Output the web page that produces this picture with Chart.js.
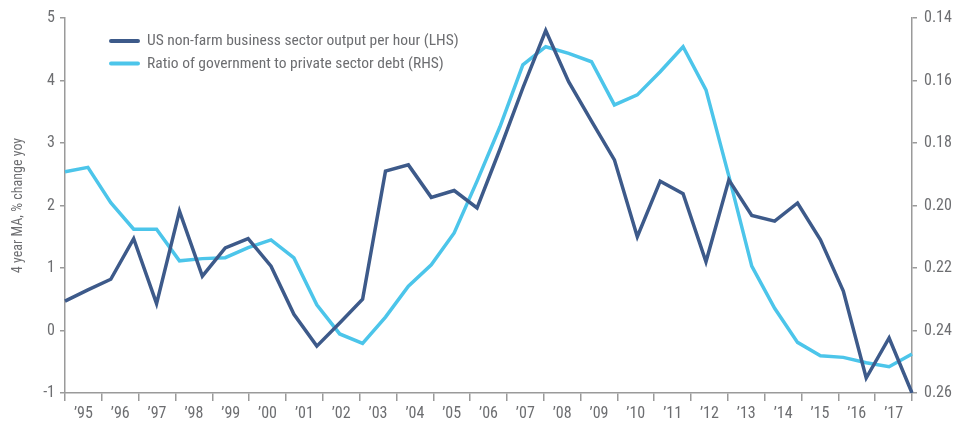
<!DOCTYPE html>
<html>
<head>
<meta charset="utf-8">
<script src="https://cdn.jsdelivr.net/npm/chart.js@4.4.1/dist/chart.umd.min.js"></script>
<style>
html,body{margin:0;padding:0;background:#ffffff;}
#wrap{width:958px;height:421px;position:relative;}
</style>
</head>
<body>
<div id="wrap"><canvas id="c"></canvas></div>
<script>
// ---- data ----
const periods = [1,2,3,4,5,6,7,8,9,10,11,12,13,14,15,16,17,18,19,20,21,22,23,24,25,26,27,28,29,30,31,32,33,34,35,36,37,38];
const yearLabels = ['\u201995','\u201996','\u201997','\u201998','\u201999','\u201900','\u201901','\u201902','\u201903','\u201904','\u201905','\u201906','\u201907','\u201908','\u201909','\u201910','\u201911','\u201912','\u201913','\u201914','\u201915','\u201916','\u201917'];
const productivityLabel = 'US non-farm business sector output per hour (LHS)';
const debtLabel = 'Ratio of government to private sector debt (RHS)';
const productivity = [0.47,0.65,0.82,1.47,0.43,1.91,0.87,1.32,1.47,1.03,0.26,-0.25,0.12,0.50,2.55,2.65,2.13,2.24,1.96,2.90,3.88,4.80,3.98,3.35,2.73,1.50,2.39,2.19,1.10,2.41,1.84,1.75,2.04,1.45,0.63,-0.76,-0.12,-1.00];
const debtRatio = [0.1892,0.1878,0.1991,0.2076,0.2076,0.2177,0.2170,0.2167,0.2135,0.2110,0.2168,0.2318,0.2411,0.2441,0.2357,0.2258,0.2190,0.2088,0.1922,0.1748,0.1550,0.1492,0.1513,0.1540,0.1678,0.1646,0.1572,0.1492,0.1630,0.1906,0.2194,0.2329,0.2438,0.2481,0.2486,0.2503,0.2516,0.2475];
const leftRange = [-1, 5];
const rightRange = [0.14, 0.26];
const leftTitle = '4 year MA, % change yoy';

// ---- styles ----
const FONT = "'Liberation Sans Narrow', 'Roboto Condensed', 'Roboto', sans-serif";
const TEXT = '#6d6e71';
const AXIS = '#9a9a9a';
const DARK = '#3d5a8a';
const LIGHT = '#4cc5ea';

const insideLegend = {
  id: 'insideLegend',
  afterDraw(chart) {
    const ctx = chart.ctx;
    chart.data.datasets.forEach((ds, i) => {
      const y = 41 + i * 22.5;
      ctx.save();
      ctx.strokeStyle = ds.borderColor;
      ctx.lineWidth = 4;
      ctx.lineCap = 'round';
      ctx.beginPath();
      ctx.moveTo(111, y);
      ctx.lineTo(138, y);
      ctx.stroke();
      ctx.fillStyle = TEXT;
      ctx.font = '15.5px ' + FONT;
      ctx.textBaseline = 'middle';
      ctx.textAlign = 'left';
      ctx.fillText(ds.label, 147, y + 0.5);
      ctx.restore();
    });
  }
};

new Chart(document.getElementById('c'), {
  type: 'line',
  data: {
    labels: periods,
    datasets: [
      {
        label: productivityLabel,
        data: productivity,
        yAxisID: 'y',
        xAxisID: 'x',
        borderColor: DARK,
        backgroundColor: DARK,
        borderWidth: 3.5,
        pointRadius: 0,
        tension: 0,
        borderJoinStyle: 'miter',
        fill: false
      },
      {
        label: debtLabel,
        data: debtRatio,
        yAxisID: 'y1',
        xAxisID: 'x',
        borderColor: LIGHT,
        backgroundColor: LIGHT,
        borderWidth: 3.5,
        pointRadius: 0,
        tension: 0,
        borderJoinStyle: 'miter',
        fill: false
      }
    ]
  },
  options: {
    responsive: true,
    maintainAspectRatio: false,
    animation: false,
    devicePixelRatio: 1,
    layout: { padding: { top: 18, left: 0, right: 0, bottom: 0 } },
    plugins: {
      legend: { display: false },
      tooltip: { enabled: false },
      title: { display: false }
    },
    scales: {
      x: {
        type: 'category',
        display: false,
        offset: false
      },
      xYears: {
        type: 'linear',
        axis: 'x',
        position: 'bottom',
        min: 0,
        max: yearLabels.length,
        afterFit(scale) { scale.height = 28; scale.paddingLeft = 0; scale.paddingRight = 0; },
        border: { display: true, color: AXIS, width: 1.5 },
        grid: {
          drawOnChartArea: false,
          drawTicks: true,
          tickLength: 8,
          lineWidth: 1.5,
          color: (ctx) => {
            const v = ctx.tick ? ctx.tick.value : 0;
            return Math.abs(v - Math.round(v)) < 1e-6 ? AXIS : 'rgba(0,0,0,0)';
          }
        },
        ticks: {
          stepSize: 0.5,
          maxTicksLimit: 200,
          autoSkip: false,
          maxRotation: 0,
          minRotation: 0,
          padding: 3,
          color: TEXT,
          font: { family: FONT, size: 16 },
          callback: (v) => {
            const k = v - 0.5;
            if (Math.abs(k - Math.round(k)) < 1e-6) {
              return yearLabels[Math.round(k)] || '';
            }
            return '';
          }
        }
      },
      y: {
        type: 'linear',
        position: 'left',
        min: leftRange[0],
        max: leftRange[1],
        afterFit(scale) { scale.width = 65; },
        border: { display: true, color: AXIS, width: 1.5 },
        grid: { drawOnChartArea: false, drawTicks: true, tickLength: 5, color: AXIS, lineWidth: 1.5 },
        ticks: {
          stepSize: 1,
          padding: 5,
          color: TEXT,
          font: { family: FONT, size: 16 }
        },
        title: {
          display: true,
          text: leftTitle,
          color: TEXT,
          font: { family: FONT, size: 14 },
          padding: { top: 10, bottom: 0 }
        }
      },
      y1: {
        type: 'linear',
        position: 'right',
        reverse: true,
        min: rightRange[0],
        max: rightRange[1],
        afterFit(scale) { scale.width = 46; },
        border: { display: true, color: AXIS, width: 1.5 },
        grid: { drawOnChartArea: false, drawTicks: true, tickLength: 5, color: AXIS, lineWidth: 1.5 },
        ticks: {
          stepSize: 0.02,
          padding: 7,
          color: TEXT,
          font: { family: FONT, size: 16 },
          callback: (v) => Number(v).toFixed(2)
        }
      }
    }
  },
  plugins: [insideLegend]
});
</script>
</body>
</html>
